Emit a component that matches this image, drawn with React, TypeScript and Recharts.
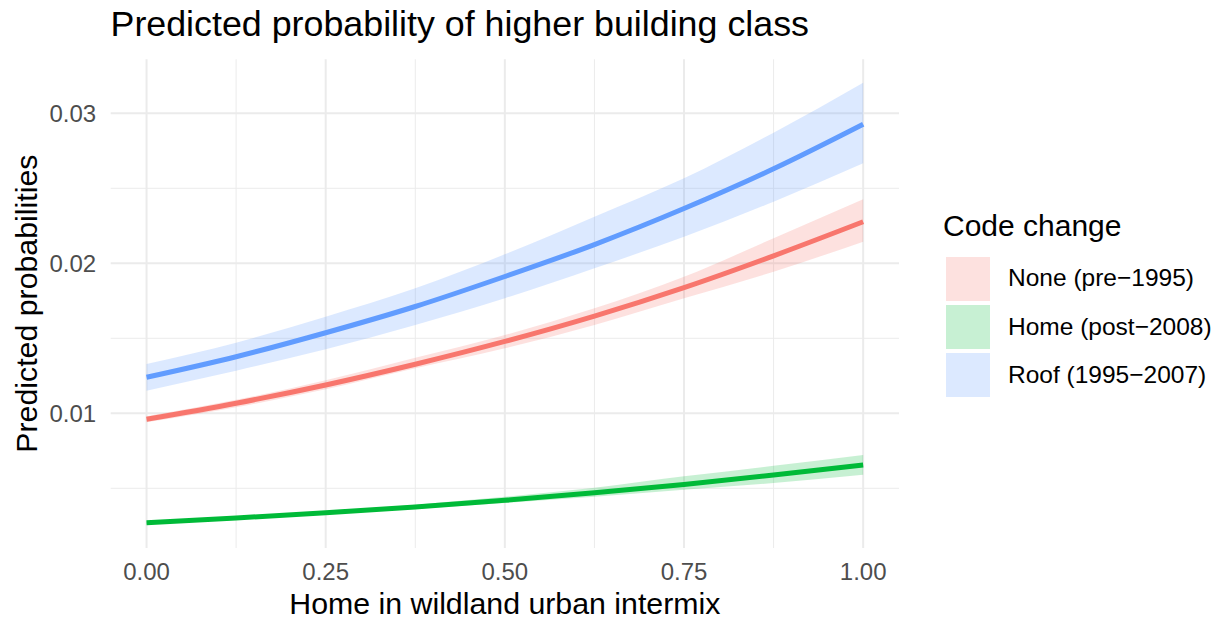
import React from 'react';
import { ComposedChart, Line, Area, XAxis, YAxis, CartesianGrid, Legend } from 'recharts';

// x positions of the fitted curve (share of homes in WUI intermix)
const xs = [0, 0.125, 0.25, 0.375, 0.5, 0.625, 0.75, 0.875, 1];

// None (pre-1995)
const noneFit = [0.0096, 0.01067, 0.01189, 0.01327, 0.01479, 0.01648, 0.01838, 0.0205, 0.02277];
const noneLo = [0.0094, 0.0104, 0.0116, 0.013, 0.01433, 0.01589, 0.01767, 0.01944, 0.02144];
const noneHi = [0.0098, 0.0109, 0.0122, 0.0137, 0.01522, 0.017, 0.0191, 0.02167, 0.02427];

// Home (post-2008)
const homeFit = [0.00271, 0.00302, 0.00337, 0.00376, 0.0042, 0.0047, 0.00526, 0.00588, 0.00655];
const homeLo = [0.00264, 0.00297, 0.00328, 0.00364, 0.00402, 0.00444, 0.0049, 0.00535, 0.0059];
const homeHi = [0.00278, 0.00312, 0.00347, 0.00391, 0.00444, 0.00504, 0.0058, 0.0065, 0.00722];

// Roof (1995-2007)
const roofFit = [0.0124, 0.01377, 0.01537, 0.01712, 0.01912, 0.02125, 0.02365, 0.0263, 0.02927];
const roofLo = [0.01151, 0.01284, 0.01427, 0.01589, 0.01767, 0.01967, 0.02177, 0.02411, 0.02667];
const roofHi = [0.01329, 0.01471, 0.01644, 0.01833, 0.0206, 0.02311, 0.02567, 0.02871, 0.03204];

const xTicks = [0, 0.25, 0.5, 0.75, 1];
const xMinor = [0.125, 0.375, 0.625, 0.875];
const yTicks = [0.01, 0.02, 0.03];
const yMinor = [0.005, 0.015, 0.025];

const series = [
  { key: 'none', name: 'None (pre\u22121995)', color: '#F8766D' },
  { key: 'home', name: 'Home (post\u22122008)', color: '#00BA38' },
  { key: 'roof', name: 'Roof (1995\u22122007)', color: '#619CFF' },
];

const data = xs.map((x, i) => ({
  x,
  none: noneFit[i],
  noneBand: [noneLo[i], noneHi[i]],
  home: homeFit[i],
  homeBand: [homeLo[i], homeHi[i]],
  roof: roofFit[i],
  roofBand: [roofLo[i], roofHi[i]],
}));

const FONT = '"Liberation Sans", Arial, Helvetica, sans-serif';
const GRID = '#EBEBEB';

function hexToFaded(hex: string, alpha: number) {
  const r = parseInt(hex.slice(1, 3), 16);
  const g = parseInt(hex.slice(3, 5), 16);
  const b = parseInt(hex.slice(5, 7), 16);
  const mix = (c: number) => Math.round(c * alpha + 255 * (1 - alpha));
  return `rgb(${mix(r)}, ${mix(g)}, ${mix(b)})`;
}

function LegendBox() {
  return (
    <div style={{ position: 'relative', width: 280, height: 200, fontFamily: FONT }}>
      <div style={{ position: 'absolute', left: 0, top: 10.5, fontSize: 30, lineHeight: 1, color: '#000', whiteSpace: 'nowrap' }}>
        Code change
      </div>
      {series.map((s, i) => (
        <div
          key={s.key}
          style={{
            position: 'absolute',
            left: 3,
            top: 56.7 + i * 48.3,
            height: 44,
            display: 'flex',
            alignItems: 'center',
            whiteSpace: 'nowrap',
          }}
        >
          <div style={{ width: 44, height: 44, background: hexToFaded(s.color, 0.22) }} />
          <span style={{ marginLeft: 18, fontSize: 24.5, color: '#000', lineHeight: 1 }}>{s.name}</span>
        </div>
      ))}
    </div>
  );
}

export default function App() {
  const tickStyle = { fontSize: 24, fill: '#4D4D4D', fontFamily: FONT };
  return (
    <div style={{ position: 'absolute', left: 0, top: 0, width: 1222, height: 622, background: '#fff', fontFamily: FONT }}>
      <div style={{ position: 'absolute', left: 110.5, top: 6.5, fontSize: 35.8, lineHeight: 1, color: '#000', whiteSpace: 'nowrap', zIndex: 2 }}>
        Predicted probability of higher building class
      </div>
      <ComposedChart width={1222} height={622} data={data} margin={{ top: 59.3, right: 323, bottom: 0, left: 0 }}>
        <CartesianGrid stroke={GRID} strokeWidth={1} horizontalValues={yMinor} verticalValues={xMinor} />
        <CartesianGrid stroke={GRID} strokeWidth={2} horizontalValues={yTicks} verticalValues={xTicks} />
        <XAxis
          dataKey="x"
          type="number"
          domain={[-0.05, 1.05]}
          allowDataOverflow
          ticks={xTicks}
          tickFormatter={(v: number) => v.toFixed(2)}
          axisLine={false}
          tickLine={false}
          tickSize={0}
          tickMargin={15}
          height={74}
          tick={tickStyle}
          label={(props: any) => {
            const vb = props.viewBox || { x: 110.7, y: 548, width: 788.3, height: 74 };
            return (
              <text x={vb.x + vb.width / 2} y={vb.y + 66} textAnchor="middle" fontSize={30.3} fontFamily={FONT} fill="#000">
                Home in wildland urban intermix
              </text>
            );
          }}
        />
        <YAxis
          type="number"
          domain={[0.00102, 0.0336]}
          allowDataOverflow
          ticks={yTicks}
          tickFormatter={(v: number) => v.toFixed(2)}
          axisLine={false}
          tickLine={false}
          tickSize={0}
          tickMargin={14.5}
          width={110.7}
          tick={tickStyle}
          label={(props: any) => {
            const vb = props.viewBox || { x: 0, y: 59.3, width: 110.7, height: 488.7 };
            const cx = vb.x + 37;
            const cy = vb.y + vb.height / 2;
            return (
              <text x={cx} y={cy} transform={`rotate(-90, ${cx}, ${cy})`} textAnchor="middle" fontSize={30.3} fontFamily={FONT} fill="#000">
                Predicted probabilities
              </text>
            );
          }}
        />
        {series.map((s) => (
          <Area
            key={`${s.key}-band`}
            type="monotone"
            dataKey={`${s.key}Band`}
            stroke="none"
            fill={s.color}
            fillOpacity={0.22}
            activeDot={false}
            isAnimationActive={false}
            legendType="none"
          />
        ))}
        {series.map((s) => (
          <Line
            key={s.key}
            type="monotone"
            dataKey={s.key}
            name={s.name}
            stroke={s.color}
            strokeWidth={5}
            dot={false}
            activeDot={false}
            isAnimationActive={false}
          />
        ))}
        <Legend
          layout="vertical"
          align="center"
          verticalAlign="middle"
          content={() => <LegendBox />}
          wrapperStyle={{ left: 943, top: 200, width: 280, height: 200 }}
        />
      </ComposedChart>
    </div>
  );
}
